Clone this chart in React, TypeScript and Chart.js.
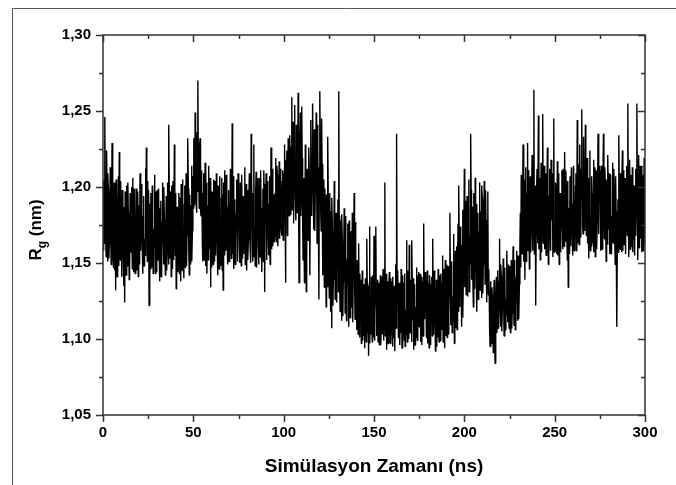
import React, { useEffect, useRef } from "react";
import { Chart, registerables } from "chart.js";

Chart.register(...registerables);

// Simulation time sampling (ns) and axis settings
const TIME_STEP_NS = 0.5; // on-grid samples; the "mid" arrays sit half a step later
const X_MIN = 0;
const X_MAX = 300;
const X_MAJOR = 50;
const X_MINOR = 25;
const Y_MIN = 1.05;
const Y_MAX = 1.3;
const Y_MAJOR = 0.05;
const Y_MINOR = 0.025;

const X_TITLE = "Simülasyon Zamanı (ns)";
const Y_TITLE_MAIN = "R";
const Y_TITLE_SUB = "g";
const Y_TITLE_REST = " (nm)";

// Rg values (nm): samples at t = 0, 0.5, 1.0 ... ns
const rg000_025 = [
  1.172, 1.205, 1.246, 1.168, 1.224, 1.151, 1.198, 1.162, 1.213, 1.149,
  1.229, 1.158, 1.191, 1.145, 1.132, 1.186, 1.156, 1.207, 1.223, 1.152,
  1.189, 1.141, 1.178, 1.135, 1.124, 1.169, 1.201, 1.148, 1.183, 1.139,
  1.196, 1.157, 1.174, 1.206, 1.144, 1.181, 1.152, 1.199, 1.163, 1.141,
  1.188, 1.209, 1.158, 1.176, 1.143, 1.194, 1.166, 1.212, 1.226, 1.151,
];
const rg025_050 = [
  1.182, 1.122, 1.171, 1.196, 1.147, 1.185, 1.159, 1.208, 1.143, 1.176,
  1.198, 1.152, 1.167, 1.138, 1.191, 1.161, 1.203, 1.149, 1.178, 1.142,
  1.194, 1.156, 1.186, 1.241, 1.153, 1.172, 1.201, 1.146, 1.181, 1.228,
  1.155, 1.133, 1.187, 1.144, 1.196, 1.165, 1.138, 1.179, 1.205, 1.158,
  1.189, 1.147, 1.209, 1.168, 1.232, 1.157, 1.195, 1.149, 1.214, 1.171,
];
const rg050_075 = [
  1.186, 1.223, 1.249, 1.192, 1.236, 1.27, 1.205, 1.228, 1.184, 1.211,
  1.163, 1.196, 1.152, 1.216, 1.171, 1.143, 1.188, 1.214, 1.159, 1.134,
  1.181, 1.197, 1.149, 1.176, 1.204, 1.155, 1.189, 1.142, 1.168, 1.207,
  1.161, 1.193, 1.145, 1.132, 1.178, 1.211, 1.158, 1.186, 1.149, 1.198,
  1.167, 1.212, 1.153, 1.242, 1.174, 1.146, 1.192, 1.163, 1.205, 1.151,
];
const rg075_100 = [
  1.187, 1.161, 1.203, 1.148, 1.179, 1.194, 1.156, 1.213, 1.171, 1.145,
  1.198, 1.166, 1.209, 1.158, 1.235, 1.182, 1.151, 1.228, 1.173, 1.196,
  1.147, 1.188, 1.162, 1.206, 1.154, 1.183, 1.144, 1.199, 1.211, 1.131,
  1.176, 1.158, 1.204, 1.167, 1.189, 1.149, 1.226, 1.178, 1.161, 1.195,
  1.169, 1.219, 1.164, 1.208, 1.172, 1.217, 1.176, 1.203, 1.168, 1.211,
];
const rg100_125 = [
  1.176, 1.228, 1.137, 1.196, 1.168, 1.232, 1.181, 1.234, 1.192, 1.259,
  1.203, 1.176, 1.254, 1.189, 1.241, 1.183, 1.262, 1.137, 1.218, 1.181,
  1.253, 1.178, 1.206, 1.137, 1.228, 1.131, 1.212, 1.165, 1.226, 1.142,
  1.244, 1.181, 1.255, 1.172, 1.238, 1.198, 1.249, 1.163, 1.226, 1.126,
  1.263, 1.184, 1.245, 1.168, 1.205, 1.134, 1.191, 1.121, 1.178, 1.233,
];
const rg125_150 = [
  1.152, 1.196, 1.118, 1.107, 1.171, 1.139, 1.204, 1.126, 1.183, 1.145,
  1.192, 1.263, 1.134, 1.178, 1.112, 1.164, 1.138, 1.186, 1.117, 1.157,
  1.129, 1.176, 1.108, 1.149, 1.171, 1.121, 1.183, 1.143, 1.196, 1.113,
  1.154, 1.106, 1.138, 1.163, 1.101, 1.132, 1.097, 1.145, 1.118, 1.136,
  1.094, 1.127, 1.166, 1.104, 1.089, 1.174, 1.112, 1.141, 1.098, 1.131,
];
const rg150_175 = [
  1.168, 1.117, 1.174, 1.102, 1.139, 1.115, 1.096, 1.142, 1.108, 1.131,
  1.146, 1.099, 1.203, 1.121, 1.093, 1.138, 1.111, 1.144, 1.097, 1.127,
  1.105, 1.141, 1.118, 1.092, 1.149, 1.235, 1.124, 1.101, 1.137, 1.113,
  1.146, 1.094, 1.128, 1.108, 1.143, 1.119, 1.165, 1.098, 1.134, 1.162,
  1.104, 1.139, 1.165, 1.112, 1.093, 1.136, 1.121, 1.147, 1.099, 1.129,
];
const rg175_200 = [
  1.108, 1.143, 1.117, 1.096, 1.138, 1.176, 1.113, 1.131, 1.101, 1.145,
  1.122, 1.094, 1.136, 1.109, 1.141, 1.166, 1.103, 1.128, 1.092, 1.139,
  1.115, 1.146, 1.098, 1.124, 1.143, 1.106, 1.155, 1.119, 1.094, 1.152,
  1.125, 1.101, 1.148, 1.117, 1.183, 1.109, 1.151, 1.128, 1.169, 1.097,
  1.158, 1.134, 1.106, 1.176, 1.201, 1.121, 1.167, 1.108, 1.185, 1.143,
];
const rg200_225 = [
  1.212, 1.158, 1.129, 1.194, 1.147, 1.205, 1.168, 1.235, 1.139, 1.187,
  1.121, 1.174, 1.206, 1.152, 1.118, 1.183, 1.143, 1.203, 1.161, 1.127,
  1.192, 1.149, 1.204, 1.136, 1.178, 1.124, 1.197, 1.146, 1.106, 1.138,
  1.097, 1.128, 1.091, 1.139, 1.084, 1.122, 1.104, 1.145, 1.113, 1.166,
  1.108, 1.141, 1.119, 1.153, 1.102, 1.147, 1.126, 1.158, 1.111, 1.149,
];
const rg225_250 = [
  1.131, 1.104, 1.152, 1.117, 1.161, 1.109, 1.144, 1.123, 1.158, 1.112,
  1.147, 1.136, 1.183, 1.208, 1.156, 1.228, 1.172, 1.139, 1.213, 1.164,
  1.229, 1.181, 1.146, 1.207, 1.169, 1.221, 1.158, 1.264, 1.176, 1.122,
  1.198, 1.163, 1.247, 1.184, 1.152, 1.216, 1.171, 1.248, 1.188, 1.159,
  1.209, 1.173, 1.226, 1.149, 1.194, 1.167, 1.218, 1.178, 1.154, 1.245,
];
const rg250_275 = [
  1.172, 1.203, 1.156, 1.217, 1.181, 1.149, 1.196, 1.168, 1.211, 1.159,
  1.188, 1.223, 1.164, 1.199, 1.152, 1.134, 1.186, 1.207, 1.161, 1.193,
  1.155, 1.214, 1.176, 1.201, 1.158, 1.244, 1.183, 1.162, 1.228, 1.191,
  1.251, 1.174, 1.233, 1.196, 1.241, 1.168, 1.219, 1.185, 1.153, 1.224,
  1.179, 1.207, 1.163, 1.218, 1.187, 1.154, 1.211, 1.176, 1.235, 1.169,
];
const rg275_300 = [
  1.193, 1.158, 1.214, 1.182, 1.235, 1.166, 1.202, 1.151, 1.189, 1.221,
  1.172, 1.156, 1.208, 1.181, 1.216, 1.163, 1.197, 1.149, 1.184, 1.108,
  1.192, 1.234, 1.171, 1.209, 1.157, 1.224, 1.183, 1.162, 1.206, 1.199,
  1.176, 1.255, 1.154, 1.218, 1.187, 1.161, 1.213, 1.178, 1.201, 1.194,
  1.168, 1.255, 1.152, 1.221, 1.183, 1.166, 1.214, 1.189, 1.158, 1.219,
  1.187,
];

// Rg values (nm) at the in-between times t = 0.25, 0.75, 1.25 ... ns
const rgMid000_025 = [
  1.158, 1.163, 1.201, 1.154, 1.196, 1.209, 1.153, 1.185, 1.174, 1.167,
  1.211, 1.147, 1.203, 1.192, 1.205, 1.141, 1.178, 1.148, 1.187, 1.204,
  1.168, 1.198, 1.154, 1.187, 1.197, 1.142, 1.179, 1.203, 1.161, 1.149,
  1.188, 1.2, 1.146, 1.171, 1.199, 1.143, 1.166, 1.145, 1.197, 1.157,
  1.149, 1.185, 1.202, 1.162, 1.181, 1.148, 1.155, 1.164, 1.192, 1.204,
];
const rgMid025_050 = [
  1.198, 1.189, 1.146, 1.163, 1.201, 1.143, 1.172, 1.185, 1.197, 1.144,
  1.181, 1.199, 1.186, 1.154, 1.141, 1.177, 1.168, 1.2, 1.159, 1.171,
  1.145, 1.203, 1.149, 1.188, 1.197, 1.141, 1.166, 1.204, 1.152, 1.176,
  1.196, 1.164, 1.151, 1.183, 1.143, 1.193, 1.202, 1.145, 1.173, 1.14,
  1.201, 1.162, 1.148, 1.184, 1.199, 1.142, 1.17, 1.188, 1.151, 1.207,
];
const rgMid050_075 = [
  1.232, 1.188, 1.214, 1.183, 1.197, 1.221, 1.186, 1.232, 1.181, 1.204,
  1.151, 1.209, 1.166, 1.148, 1.203, 1.172, 1.152, 1.191, 1.206, 1.2,
  1.147, 1.168, 1.205, 1.151, 1.184, 1.209, 1.162, 1.201, 1.146, 1.179,
  1.148, 1.206, 1.195, 1.203, 1.155, 1.169, 1.208, 1.164, 1.187, 1.151,
  1.158, 1.196, 1.174, 1.156, 1.207, 1.165, 1.149, 1.182, 1.197, 1.209,
];
const rgMid075_100 = [
  1.205, 1.15, 1.177, 1.208, 1.153, 1.171, 1.191, 1.149, 1.202, 1.185,
  1.152, 1.193, 1.168, 1.15, 1.207, 1.196, 1.163, 1.154, 1.148, 1.21,
  1.174, 1.206, 1.149, 1.189, 1.211, 1.167, 1.186, 1.151, 1.193, 1.202,
  1.209, 1.152, 1.183, 1.155, 1.207, 1.175, 1.159, 1.212, 1.183, 1.164,
  1.196, 1.173, 1.214, 1.161, 1.192, 1.166, 1.212, 1.171, 1.204, 1.165,
];
const rgMid100_125 = [
  1.209, 1.186, 1.218, 1.224, 1.194, 1.207, 1.219, 1.182, 1.227, 1.185,
  1.243, 1.221, 1.212, 1.178, 1.226, 1.208, 1.194, 1.236, 1.249, 1.196,
  1.219, 1.152, 1.192, 1.168, 1.181, 1.154, 1.197, 1.177, 1.208, 1.191,
  1.216, 1.203, 1.228, 1.186, 1.171, 1.221, 1.204, 1.241, 1.175, 1.213,
  1.229, 1.171, 1.215, 1.142, 1.172, 1.199, 1.158, 1.195, 1.134, 1.187,
];
const rgMid125_150 = [
  1.127, 1.171, 1.184, 1.193, 1.122, 1.161, 1.188, 1.147, 1.124, 1.176,
  1.131, 1.181, 1.118, 1.167, 1.182, 1.115, 1.158, 1.173, 1.181, 1.112,
  1.153, 1.169, 1.178, 1.114, 1.162, 1.133, 1.111, 1.168, 1.141, 1.177,
  1.129, 1.152, 1.103, 1.131, 1.143, 1.139, 1.118, 1.099, 1.102, 1.128,
  1.14, 1.098, 1.137, 1.135, 1.121, 1.097, 1.103, 1.125, 1.142, 1.101,
];
const rgMid150_175 = [
  1.099, 1.138, 1.126, 1.131, 1.098, 1.137, 1.124, 1.096, 1.141, 1.103,
  1.116, 1.134, 1.102, 1.143, 1.119, 1.097, 1.132, 1.109, 1.14, 1.138,
  1.095, 1.101, 1.135, 1.12, 1.107, 1.141, 1.145, 1.126, 1.096, 1.104,
  1.133, 1.142, 1.137, 1.099, 1.095, 1.103, 1.122, 1.145, 1.1, 1.126,
  1.117, 1.098, 1.132, 1.14, 1.116, 1.096, 1.101, 1.131, 1.142, 1.144,
];
const rgMid175_200 = [
  1.124, 1.098, 1.141, 1.127, 1.102, 1.135, 1.144, 1.139, 1.118, 1.097,
  1.137, 1.142, 1.096, 1.126, 1.102, 1.121, 1.145, 1.135, 1.112, 1.095,
  1.101, 1.129, 1.142, 1.099, 1.131, 1.137, 1.098, 1.146, 1.127, 1.102,
  1.149, 1.131, 1.103, 1.138, 1.147, 1.126, 1.104, 1.112, 1.141, 1.132,
  1.107, 1.161, 1.149, 1.118, 1.156, 1.174, 1.139, 1.162, 1.114, 1.171,
];
const rgMid200_225 = [
  1.134, 1.191, 1.176, 1.128, 1.161, 1.131, 1.149, 1.198, 1.163, 1.146,
  1.196, 1.133, 1.179, 1.189, 1.155, 1.126, 1.171, 1.132, 1.184, 1.201,
  1.13, 1.166, 1.181, 1.198, 1.152, 1.169, 1.129, 1.132, 1.095, 1.121,
  1.134, 1.112, 1.126, 1.103, 1.131, 1.141, 1.118, 1.107, 1.138, 1.124,
  1.149, 1.105, 1.133, 1.127, 1.138, 1.106, 1.116, 1.143, 1.129, 1.107,
];
const rgMid225_250 = [
  1.148, 1.126, 1.107, 1.139, 1.132, 1.152, 1.106, 1.141, 1.129, 1.155,
  1.113, 1.162, 1.147, 1.193, 1.187, 1.151, 1.205, 1.182, 1.151, 1.196,
  1.158, 1.211, 1.174, 1.157, 1.195, 1.177, 1.203, 1.156, 1.201, 1.168,
  1.212, 1.181, 1.159, 1.206, 1.189, 1.157, 1.196, 1.163, 1.214, 1.178,
  1.155, 1.191, 1.204, 1.171, 1.212, 1.158, 1.197, 1.209, 1.186, 1.157,
];
const rgMid250_275 = [
  1.158, 1.189, 1.171, 1.155, 1.209, 1.177, 1.157, 1.191, 1.173, 1.212,
  1.161, 1.195, 1.211, 1.168, 1.204, 1.179, 1.156, 1.183, 1.213, 1.166,
  1.189, 1.158, 1.162, 1.209, 1.181, 1.163, 1.215, 1.186, 1.167, 1.212,
  1.198, 1.169, 1.178, 1.171, 1.208, 1.194, 1.163, 1.206, 1.187, 1.158,
  1.161, 1.196, 1.182, 1.157, 1.213, 1.174, 1.159, 1.198, 1.182, 1.214,
];
const rgMid275_300 = [
  1.211, 1.176, 1.159, 1.196, 1.187, 1.213, 1.174, 1.205, 1.162, 1.191,
  1.209, 1.177, 1.156, 1.164, 1.193, 1.212, 1.168, 1.207, 1.161, 1.173,
  1.157, 1.198, 1.159, 1.186, 1.201, 1.158, 1.211, 1.177, 1.156, 1.214,
  1.168, 1.196, 1.181, 1.159, 1.208, 1.185, 1.157, 1.166, 1.155, 1.212,
  1.191, 1.203, 1.174, 1.16, 1.214, 1.189, 1.157, 1.208, 1.176, 1.162,
];

const rgOnGrid = [
  ...rg000_025, ...rg025_050, ...rg050_075, ...rg075_100,
  ...rg100_125, ...rg125_150, ...rg150_175, ...rg175_200,
  ...rg200_225, ...rg225_250, ...rg250_275, ...rg275_300,
];
const rgHalfStep = [
  ...rgMid000_025, ...rgMid025_050, ...rgMid050_075, ...rgMid075_100,
  ...rgMid100_125, ...rgMid125_150, ...rgMid150_175, ...rgMid175_200,
  ...rgMid200_225, ...rgMid225_250, ...rgMid250_275, ...rgMid275_300,
];

const FONT_FAMILY = '"Liberation Sans", Arial, Helvetica, sans-serif';

const framePlugin = {
  id: "originFrame",
  afterDraw(chart: any) {
    const { ctx, chartArea: a, scales } = chart;
    const xs = scales.x;
    const ys = scales.y;
    ctx.save();

    // outer picture frame
    ctx.strokeStyle = "#555555";
    ctx.lineWidth = 1;
    ctx.beginPath();
    ctx.moveTo(12.5, chart.height);
    ctx.lineTo(12.5, 8.5);
    ctx.lineTo(chart.width, 8.5);
    ctx.stroke();

    // plot box
    ctx.strokeStyle = "#333333";
    ctx.lineWidth = 1.5;
    ctx.strokeRect(a.left, a.top, a.right - a.left, a.bottom - a.top);

    // ticks: outward on bottom/left, inward on top/right
    ctx.lineWidth = 1.5;
    ctx.beginPath();
    const nx = Math.round((X_MAX - X_MIN) / X_MINOR);
    for (let i = 0; i <= nx; i++) {
      const v = X_MIN + i * X_MINOR;
      const px = Math.round(xs.getPixelForValue(v)) + 0.5;
      const len = i % Math.round(X_MAJOR / X_MINOR) === 0 ? 7 : 4;
      ctx.moveTo(px, a.bottom);
      ctx.lineTo(px, a.bottom + len);
      ctx.moveTo(px, a.top);
      ctx.lineTo(px, a.top + len);
    }
    const ny = Math.round((Y_MAX - Y_MIN) / Y_MINOR);
    for (let i = 0; i <= ny; i++) {
      const v = Y_MIN + i * Y_MINOR;
      const py = Math.round(ys.getPixelForValue(v)) + 0.5;
      const len = i % Math.round(Y_MAJOR / Y_MINOR) === 0 ? 7 : 4;
      ctx.moveTo(a.left, py);
      ctx.lineTo(a.left - len, py);
      ctx.moveTo(a.right, py);
      ctx.lineTo(a.right - len, py);
    }
    ctx.stroke();

    // axis titles
    ctx.fillStyle = "#000000";
    ctx.font = `bold 19px ${FONT_FAMILY}`;
    ctx.textAlign = "center";
    ctx.textBaseline = "alphabetic";
    ctx.fillText(X_TITLE, (a.left + a.right) / 2, 472);

    ctx.translate(41, 230);
    ctx.rotate(-Math.PI / 2);
    ctx.textAlign = "left";
    ctx.font = `bold 17px ${FONT_FAMILY}`;
    const wMain = ctx.measureText(Y_TITLE_MAIN).width;
    const wRest = ctx.measureText(Y_TITLE_REST).width;
    ctx.font = `bold 12px ${FONT_FAMILY}`;
    const wSub = ctx.measureText(Y_TITLE_SUB).width;
    const total = wMain + wSub + wRest;
    let cx = -total / 2;
    ctx.font = `bold 17px ${FONT_FAMILY}`;
    ctx.fillText(Y_TITLE_MAIN, cx, 0);
    cx += wMain;
    ctx.font = `bold 12px ${FONT_FAMILY}`;
    ctx.fillText(Y_TITLE_SUB, cx, 5);
    cx += wSub;
    ctx.font = `bold 17px ${FONT_FAMILY}`;
    ctx.fillText(Y_TITLE_REST, cx, 0);

    ctx.restore();
  },
};

export default function App() {
  const canvasRef = useRef<HTMLCanvasElement | null>(null);

  useEffect(() => {
    document.body.style.margin = "0";
    const canvas = canvasRef.current;
    if (!canvas) return;
    const points: { x: number; y: number }[] = [];
    rgOnGrid.forEach((v, i) => {
      points.push({ x: i * TIME_STEP_NS, y: v });
      if (i < rgHalfStep.length) {
        points.push({ x: i * TIME_STEP_NS + TIME_STEP_NS / 2, y: rgHalfStep[i] });
      }
    });
    const chart = new Chart(canvas, {
      type: "line",
      data: {
        datasets: [
          {
            data: points,
            borderColor: "#000000",
            borderWidth: 1.4,
            borderJoinStyle: "bevel",
            pointRadius: 0,
            tension: 0,
            fill: false,
          },
        ],
      },
      options: {
        responsive: false,
        animation: false,
        devicePixelRatio: 1,
        layout: { padding: { top: 35, right: 31, left: 0, bottom: 0 } },
        plugins: {
          legend: { display: false },
          tooltip: { enabled: false },
        },
        scales: {
          x: {
            type: "linear",
            min: X_MIN,
            max: X_MAX,
            grid: { display: false, drawTicks: false },
            border: { display: false },
            ticks: {
              stepSize: X_MAJOR,
              padding: 9,
              color: "#000000",
              font: { family: FONT_FAMILY, size: 15, weight: "bold" },
              maxRotation: 0,
            },
            afterFit: (s: any) => {
              s.height = 70;
            },
          },
          y: {
            type: "linear",
            min: Y_MIN,
            max: Y_MAX,
            grid: { display: false, drawTicks: false },
            border: { display: false },
            ticks: {
              stepSize: Y_MAJOR,
              padding: 12,
              color: "#000000",
              font: { family: FONT_FAMILY, size: 15, weight: "bold" },
              callback: (v: any) => Number(v).toFixed(2).replace(".", ","),
            },
            afterFit: (s: any) => {
              s.width = 103;
            },
          },
        },
      },
      plugins: [framePlugin],
    });
    return () => chart.destroy();
  }, []);

  return (
    <div style={{ width: 676, height: 485, background: "#ffffff" }}>
      <canvas ref={canvasRef} width={676} height={485} style={{ width: 676, height: 485, display: "block" }} />
    </div>
  );
}
